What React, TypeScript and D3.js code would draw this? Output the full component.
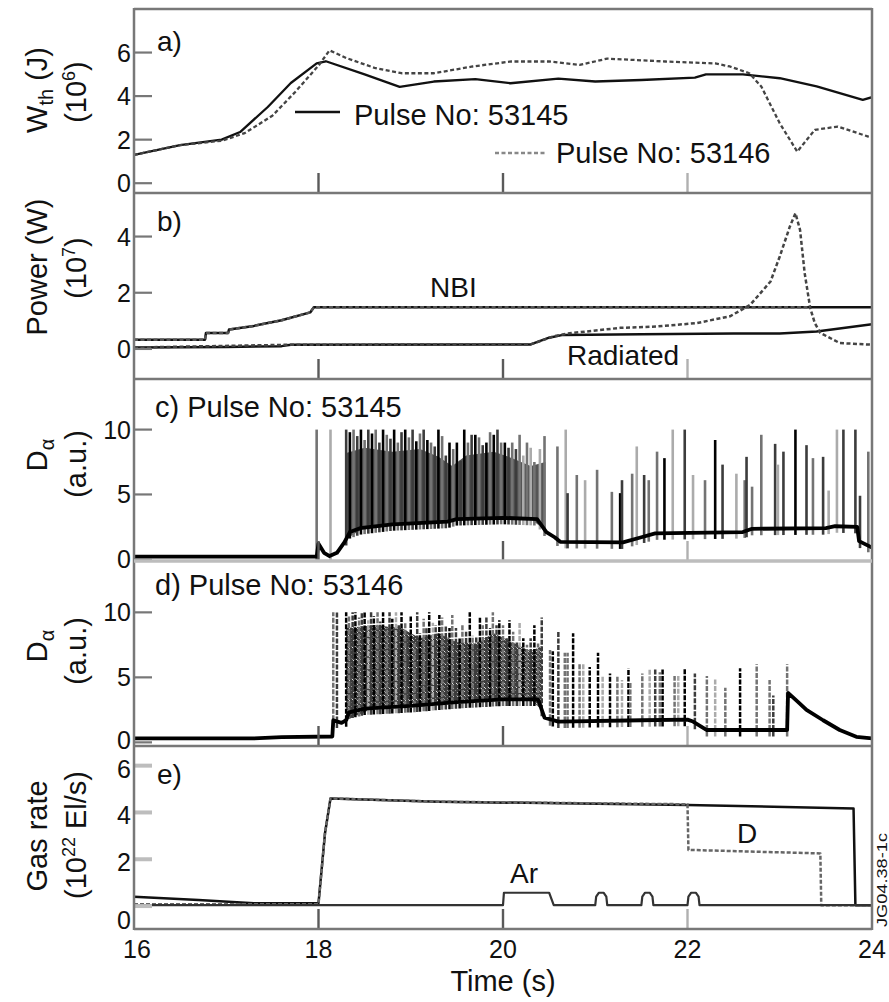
import React from 'react';
import * as d3 from 'd3';

type Pt = [number, number];
type Elm = [number, number, number]; // time (s), peak (a.u.), shade index

// ---------- axes ----------
const timeDomain: Pt = [16, 24];
const timeTicks = [16, 18, 20, 22, 24];
const innerTimeTicks = [18, 20, 22];
const wthTicks = [0, 2, 4, 6];
const powerTicks = [0, 2, 4];
const dalphaTicks = [0, 5, 10];
const gasTicks = [0, 2, 4, 6];

// ---------- a) stored energy (10^6 J) ----------
const wth53145: Pt[] = [
  [16, 1.3], [16.5, 1.75], [16.95, 2.0], [17.15, 2.35], [17.45, 3.5], [17.7, 4.6], [17.98, 5.5],
  [18.08, 5.6], [18.5, 5.0], [18.88, 4.42], [19.25, 4.67], [19.7, 4.78], [20.08, 4.59], [20.6, 4.8],
  [21.0, 4.67], [21.5, 4.74], [22.08, 4.85], [22.2, 5.0], [22.6, 5.0], [23.0, 4.82], [23.4, 4.45],
  [23.9, 3.83], [24, 3.95],
];
const wth53146: Pt[] = [
  [16, 1.3], [16.5, 1.75], [16.95, 1.95], [17.2, 2.3], [17.5, 3.1], [17.75, 4.2], [18.0, 5.4],
  [18.12, 6.1], [18.3, 5.75], [18.62, 5.28], [18.9, 5.05], [19.25, 5.05], [19.67, 5.36], [20.09, 5.59],
  [20.5, 5.59], [20.83, 5.43], [21.13, 5.72], [21.76, 5.59], [22.3, 5.5], [22.46, 5.36], [22.67, 5.05],
  [22.8, 4.44], [23.0, 2.75], [23.19, 1.45], [23.38, 2.45], [23.63, 2.6], [23.96, 2.14], [24, 2.1],
];

// ---------- b) power (10^7 W) ----------
const nbi53145: Pt[] = [
  [16, 0.33], [16.77, 0.33], [16.78, 0.57], [17.02, 0.57], [17.03, 0.69], [17.3, 0.82], [17.6, 1.02],
  [17.91, 1.3], [17.95, 1.48], [24, 1.48],
];
const nbi53146: Pt[] = [
  [16, 0.33], [16.77, 0.33], [16.78, 0.57], [17.02, 0.57], [17.03, 0.69], [17.3, 0.82], [17.6, 1.02],
  [17.91, 1.3], [17.95, 1.48], [23.3, 1.48],
];
const rad53145: Pt[] = [
  [16, 0.05], [17.0, 0.07], [17.6, 0.1], [17.7, 0.15], [20.3, 0.16], [20.5, 0.4], [20.65, 0.5],
  [21.5, 0.52], [22.5, 0.55], [23.0, 0.55], [23.4, 0.62], [24, 0.88],
];
const rad53146: Pt[] = [
  [16, 0.05], [17.7, 0.15], [20.3, 0.16], [20.55, 0.45], [20.7, 0.55], [21.27, 0.75], [21.67, 0.8],
  [22.1, 0.92], [22.46, 1.16], [22.68, 1.57], [22.9, 2.4], [23.0, 3.29], [23.11, 4.36], [23.17, 4.83],
  [23.22, 4.24], [23.27, 2.7], [23.33, 1.46], [23.38, 0.92], [23.44, 0.57], [23.65, 0.21], [24, 0.15],
];

// ---------- c) D-alpha, pulse 53145 ----------
const dalphaBase53145: Pt[] = [
  [16, 0.2], [17.98, 0.2], [18.0, 1.2], [18.06, 0.5], [18.12, 0.25], [18.2, 0.5], [18.28, 1.3],
  [18.34, 2.1], [18.45, 2.4], [18.8, 2.7], [19.4, 2.9], [19.5, 3.1], [20.0, 3.2], [20.37, 3.1],
  [20.47, 2.1], [20.56, 1.7], [20.62, 1.35], [21.3, 1.3], [21.5, 1.7], [21.65, 2.0], [22.6, 2.1],
  [22.7, 2.35], [23.5, 2.4], [23.6, 2.55], [23.84, 2.5], [23.86, 1.4], [24, 0.9],
];
// upper edge of the merged ELM burst (dense phase)
const elmBand53145: Pt[] = [
  [18.3, 8.2], [18.5, 8.6], [18.8, 8.3], [19.1, 8.5], [19.3, 7.9], [19.45, 7.2], [19.6, 8.0],
  [19.9, 8.3], [20.1, 7.8], [20.3, 7.2], [20.46, 7.5],
];
const elm53145: Elm[] = [
  [17.98, 10, 2], [18.13, 10, 3], [18.3, 10, 1], [18.34, 9.8, 0], [18.38, 10, 2], [18.42, 9.5, 1],
  [18.46, 10, 0], [18.5, 9.2, 2], [18.54, 10, 1], [18.58, 9.7, 0], [18.62, 10, 2], [18.66, 9.0, 1],
  [18.7, 10, 0], [18.74, 9.6, 2], [18.78, 9.3, 1], [18.82, 10, 0], [18.86, 9.0, 2], [18.9, 9.8, 1],
  [18.94, 10, 0], [18.98, 9.4, 2], [19.02, 10, 1], [19.06, 9.1, 0], [19.1, 9.7, 2], [19.14, 10, 1],
  [19.18, 9.2, 0], [19.22, 9.0, 2], [19.26, 8.7, 1], [19.3, 10, 0], [19.34, 9.5, 2], [19.38, 8.0, 1],
  [19.42, 9.0, 0], [19.46, 8.5, 2], [19.5, 9.0, 0], [19.54, 7.6, 1], [19.58, 10, 0], [19.62, 9.0, 2],
  [19.66, 9.6, 1], [19.7, 9.6, 0], [19.74, 9.4, 2], [19.78, 8.8, 1], [19.82, 9.0, 0], [19.86, 9.8, 2],
  [19.9, 9.6, 0], [19.94, 10, 1], [19.98, 9.0, 2], [20.02, 9.0, 0], [20.06, 8.6, 1], [20.1, 9.0, 2],
  [20.14, 8.5, 1], [20.18, 9.6, 2], [20.22, 8.0, 3], [20.26, 9.0, 2], [20.3, 8.6, 3], [20.34, 7.5, 2],
  [20.4, 8.5, 3], [20.45, 9.5, 2],
  [20.59, 8.7, 2], [20.68, 10, 3], [20.7, 5.1, 1], [20.8, 6.5, 2], [20.89, 6.1, 3], [21.02, 6.9, 2],
  [21.18, 5.2, 2], [21.27, 5.1, 0], [21.29, 6.1, 1], [21.4, 6.6, 2], [21.45, 8.7, 3], [21.53, 6.5, 1],
  [21.58, 6.1, 2], [21.67, 8.3, 2], [21.75, 7.8, 0], [21.84, 10, 3], [21.97, 10, 1], [22.06, 6.5, 3],
  [22.19, 6.1, 2], [22.3, 9.2, 0], [22.38, 7.3, 1], [22.53, 6.6, 3], [22.62, 6.1, 2], [22.64, 7.9, 1],
  [22.7, 5.6, 2], [22.8, 9.6, 2], [22.95, 8.9, 1], [22.98, 7.3, 3], [23.04, 8.3, 1], [23.17, 10, 0],
  [23.29, 8.8, 1], [23.36, 7.8, 2], [23.47, 7.9, 1], [23.53, 5.3, 3], [23.62, 10, 3], [23.69, 10, 1],
  [23.82, 10, 1], [23.87, 4.9, 1], [23.96, 8.3, 2],
];

// ---------- d) D-alpha, pulse 53146 ----------
const dalphaBase53146: Pt[] = [
  [16, 0.3], [17.3, 0.3], [17.6, 0.4], [18.15, 0.45], [18.16, 1.7], [18.25, 1.5], [18.3, 1.7],
  [18.33, 2.3], [18.5, 2.6], [19.0, 2.8], [19.5, 3.1], [20.0, 3.3], [20.38, 3.3], [20.45, 1.9],
  [20.6, 1.6], [21.5, 1.7], [22.0, 1.75], [22.06, 1.6], [22.21, 0.95], [23.08, 0.95], [23.09, 3.8],
  [23.2, 3.1], [23.29, 2.5], [23.47, 1.7], [23.65, 0.95], [23.83, 0.43], [24, 0.3],
];
const elmBand53146: Pt[] = [
  [18.3, 8.8], [18.6, 9.0], [18.9, 8.8], [19.1, 8.0], [19.3, 8.4], [19.5, 7.7], [19.7, 7.6],
  [19.9, 8.4], [20.1, 7.7], [20.3, 7.0], [20.42, 7.4],
];
const elm53146: Elm[] = [
  [18.16, 10, 2], [18.2, 10, 1], [18.3, 10, 0], [18.33, 9.8, 2], [18.37, 10, 1], [18.4, 10, 0],
  [18.44, 9.6, 2], [18.47, 10, 1], [18.5, 10, 0], [18.54, 9.4, 3], [18.57, 10, 1], [18.6, 9.7, 0],
  [18.64, 10, 2], [18.67, 9.3, 1], [18.7, 10, 0], [18.74, 8.8, 2], [18.77, 10, 1], [18.8, 9.5, 0],
  [18.84, 10, 3], [18.87, 9.0, 1], [18.9, 10, 0], [18.94, 9.2, 2], [18.97, 8.0, 1], [19.0, 9.8, 0],
  [19.04, 7.6, 2], [19.07, 10, 1], [19.1, 8.4, 0], [19.14, 9.5, 2], [19.17, 8.8, 1], [19.2, 10, 0],
  [19.24, 9.2, 3], [19.27, 9.0, 1], [19.31, 9.8, 0], [19.34, 9.6, 2], [19.38, 9.0, 1], [19.42, 8.8, 0],
  [19.45, 9.8, 2], [19.49, 8.8, 1], [19.53, 8.0, 0], [19.56, 9.0, 2], [19.6, 8.5, 1], [19.64, 10, 0],
  [19.67, 8.2, 2], [19.71, 8.1, 1], [19.75, 9.6, 0], [19.78, 9.0, 2], [19.82, 9.6, 1], [19.86, 8.8, 0],
  [19.89, 10, 2], [19.93, 9.0, 1], [19.96, 9.4, 0], [20.0, 9.0, 2], [20.04, 8.0, 1], [20.07, 9.4, 0],
  [20.11, 8.5, 2], [20.15, 7.7, 1], [20.18, 9.2, 3], [20.22, 8.0, 0], [20.26, 7.5, 2], [20.3, 8.0, 1],
  [20.34, 9.0, 0], [20.38, 7.6, 2], [20.42, 9.6, 1],
  [20.51, 7.1, 2], [20.54, 7.0, 0], [20.6, 8.6, 1], [20.67, 6.9, 2], [20.7, 6.9, 2], [20.76, 8.4, 0],
  [20.83, 6.0, 2], [20.87, 6.0, 3], [20.94, 5.8, 0], [21.03, 6.9, 0], [21.08, 5.1, 3], [21.16, 5.3, 0],
  [21.24, 5.1, 2], [21.29, 4.8, 3], [21.36, 5.7, 0], [21.38, 4.6, 2], [21.51, 5.3, 2], [21.59, 5.6, 3],
  [21.65, 5.6, 1], [21.7, 5.4, 2], [21.73, 5.6, 0], [21.86, 5.1, 2], [21.9, 5.1, 3], [21.97, 5.7, 0],
  [22.08, 5.3, 1], [22.21, 5.1, 2], [22.3, 4.9, 3], [22.41, 4.2, 2], [22.57, 5.7, 0], [22.75, 6.0, 2],
  [22.89, 4.8, 2], [22.93, 3.6, 1], [23.08, 6.0, 2],
];

// ---------- e) gas rate (10^22 El/s) ----------
const gasD53145: Pt[] = [
  [16, 0.4], [16.7, 0.26], [17.3, 0.12], [18.0, 0.12], [18.07, 3.1], [18.13, 4.6], [19.3, 4.46],
  [22.0, 4.32], [23.8, 4.17], [23.82, 0.04], [24, 0.04],
];
const gasD53146: Pt[] = [
  [16, 0.08], [18.0, 0.08], [18.07, 3.1], [18.13, 4.6], [19.3, 4.46], [22.0, 4.35], [22.01, 2.4],
  [23.44, 2.25], [23.45, 0.04], [24, 0.04],
];
const gasAr: Pt[] = [
  [16, 0.04], [20.0, 0.04], [20.01, 0.57], [20.5, 0.57], [20.55, 0.04],
  [21.0, 0.04], [21.01, 0.4], [21.04, 0.57], [21.09, 0.57], [21.12, 0.4], [21.13, 0.04],
  [21.5, 0.04], [21.51, 0.4], [21.54, 0.57], [21.59, 0.57], [21.62, 0.4], [21.63, 0.04],
  [22.0, 0.04], [22.01, 0.4], [22.04, 0.57], [22.09, 0.57], [22.12, 0.4], [22.13, 0.04],
  [24, 0.04],
];

// ---------- layout ----------
const FONT = '"Liberation Sans", Arial, Helvetica, sans-serif';
const W = 889;
const H = 1002;
const LEFT = 134;
const RIGHT = 872;
const FRAME = '#787878';
const TEXT = '#111';
const shades = ['#000000', '#3c3c3c', '#737373', '#ababab'];

const x = d3.scaleLinear().domain(timeDomain).range([LEFT, RIGHT]);

interface Panel {
  id: string;
  top: number;
  bottom: number;
  lo: number;
  hi: number;
}
const panelA: Panel = { id: 'a', top: 9, bottom: 193, lo: -0.45, hi: 8.0 };
const panelB: Panel = { id: 'b', top: 193, bottom: 379, lo: -1.07, hi: 5.55 };
const panelC: Panel = { id: 'c', top: 379, bottom: 561, lo: -0.13, hi: 13.9 };
const panelD: Panel = { id: 'd', top: 561, bottom: 746, lo: -0.28, hi: 13.95 };
const panelE: Panel = { id: 'e', top: 746, bottom: 929, lo: -0.98, hi: 6.84 };

const yOf = (p: Panel) => d3.scaleLinear().domain([p.lo, p.hi]).range([p.bottom, p.top]);
const yA = yOf(panelA);
const yB = yOf(panelB);
const yC = yOf(panelC);
const yD = yOf(panelD);
const yE = yOf(panelE);

const lineGen = (y: d3.ScaleLinear<number, number>) =>
  d3.line<Pt>().x((d) => x(d[0])).y((d) => y(d[1]));

const interp = (pts: Pt[]) =>
  d3.scaleLinear().domain(pts.map((d) => d[0])).range(pts.map((d) => d[1])).clamp(true);

function Series({ data, y, dash, color = '#111', width = 2.3 }: {
  data: Pt[]; y: d3.ScaleLinear<number, number>; dash?: string; color?: string; width?: number;
}) {
  return (
    <path d={lineGen(y)(data) || ''} fill="none" stroke={color} strokeWidth={width}
      strokeDasharray={dash} strokeLinejoin="round" />
  );
}

// filled burst region between the D-alpha baseline and the ELM upper edge
function Band({ top, base, y, fill }: { top: Pt[]; base: Pt[]; y: d3.ScaleLinear<number, number>; fill: string }) {
  const baseAt = interp(base);
  const area = d3.area<Pt>().x((d) => x(d[0])).y0((d) => y(baseAt(d[0]))).y1((d) => y(d[1]));
  return <path d={area(top) || ''} fill={fill} />;
}

function Spikes({ data, base, y, dash, width }: {
  data: Elm[]; base: Pt[]; y: d3.ScaleLinear<number, number>; dash?: string; width: number;
}) {
  const baseAt = interp(base);
  return (
    <g>
      {data.map(([t, h, s], i) => (
        <line key={i} x1={x(t)} x2={x(t)} y1={y(baseAt(t) - 0.5)} y2={y(h)}
          stroke={shades[s]} strokeWidth={width} strokeDasharray={dash} />
      ))}
    </g>
  );
}

function YTicks({ ticks, y, color, width, labelShift = 0, zeroShift = 0 }: {
  ticks: number[]; y: d3.ScaleLinear<number, number>; color: string; width: number;
  labelShift?: number; zeroShift?: number;
}) {
  return (
    <g>
      {ticks.map((v) => (
        <g key={v}>
          <line x1={LEFT} x2={LEFT + 18} y1={y(v)} y2={y(v)} stroke={color} strokeWidth={width} />
          <text x={131} y={y(v) + 9 + labelShift + (v === 0 ? zeroShift : 0)} textAnchor="end"
            fontSize={25} fontFamily={FONT} fill={TEXT}>{v}</text>
        </g>
      ))}
    </g>
  );
}

function XTicks({ p }: { p: Panel }) {
  return (
    <g>
      {innerTimeTicks.map((t) => (
        <line key={t} x1={x(t)} x2={x(t)} y1={p.bottom} y2={p.bottom - 20}
          stroke={t === 22 ? '#b0b0b0' : '#5a5a5a'} strokeWidth={2.4} />
      ))}
    </g>
  );
}

function RotLabel({ cx, cy, children, size = 29 }: { cx: number; cy: number; children: React.ReactNode; size?: number }) {
  return (
    <text transform={`translate(${cx},${cy}) rotate(-90)`} textAnchor="middle"
      fontSize={size} fontFamily={FONT} fill={TEXT}>{children}</text>
  );
}

function ClipRect({ id, p }: { id: string; p: Panel }) {
  return (
    <clipPath id={id}>
      <rect x={LEFT} y={p.top} width={RIGHT - LEFT} height={p.bottom - p.top} />
    </clipPath>
  );
}

export default function App() {
  return (
    <svg width={W} height={H} viewBox={`0 0 ${W} ${H}`}
      style={{ position: 'absolute', left: 0, top: 0, background: '#fff' }}>
      <rect width={W} height={H} fill="#fff" />
      <defs>
        <ClipRect id="clipA" p={panelA} />
        <ClipRect id="clipB" p={panelB} />
        <ClipRect id="clipC" p={panelC} />
        <ClipRect id="clipD" p={panelD} />
        <ClipRect id="clipE" p={panelE} />
        <pattern id="grain" width={4} height={4} patternUnits="userSpaceOnUse">
          <rect width={4} height={4} fill="#3e3e3e" />
          <rect x={1} y={0} width={1} height={1} fill="#cfcfcf" />
          <rect x={3} y={2} width={1} height={1} fill="#9a9a9a" />
          <rect x={0} y={3} width={1} height={1} fill="#e6e6e6" />
        </pattern>
      </defs>

      {/* a) stored energy */}
      <g clipPath="url(#clipA)">
        <Series data={wth53145} y={yA} />
        <Series data={wth53146} y={yA} dash="4 2.5" color="#444" />
      </g>
      <line x1={295} x2={340} y1={112} y2={112} stroke="#111" strokeWidth={2.3} />
      <text x={354} y={125} fontSize={29} fontFamily={FONT} fill={TEXT}>Pulse No: 53145</text>
      <line x1={495} x2={545} y1={153} y2={153} stroke="#888" strokeWidth={2.3} strokeDasharray="4 2.5" />
      <text x={556} y={163} fontSize={29} fontFamily={FONT} fill={TEXT}>Pulse No: 53146</text>

      {/* b) heating and radiated power */}
      <g clipPath="url(#clipB)">
        <Series data={rad53145} y={yB} width={2.5} />
        <Series data={nbi53145} y={yB} width={2.5} />
        <Series data={nbi53146} y={yB} dash="4 2.5" color="#555" width={2.5} />
        <Series data={rad53146} y={yB} dash="4 2.5" color="#444" width={2.5} />
      </g>
      <text x={430} y={297} fontSize={28} fontFamily={FONT} fill={TEXT}>NBI</text>
      <text x={567} y={365} fontSize={28} fontFamily={FONT} fill={TEXT}>Radiated</text>

      {/* c) D-alpha 53145 */}
      <g clipPath="url(#clipC)">
        <Band top={elmBand53145} base={dalphaBase53145} y={yC} fill="#555555" />
        <Spikes data={elm53145} base={dalphaBase53145} y={yC} width={2.6} />
        <Series data={dalphaBase53145} y={yC} color="#000" width={3.8} />
      </g>

      {/* d) D-alpha 53146 */}
      <g clipPath="url(#clipD)">
        <Band top={elmBand53146} base={dalphaBase53146} y={yD} fill="url(#grain)" />
        <Spikes data={elm53146} base={dalphaBase53146} y={yD} width={2.5} dash="5 1.5" />
        <Series data={dalphaBase53146} y={yD} color="#000" width={3.8} />
      </g>

      {/* e) gas injection */}
      <g clipPath="url(#clipE)">
        <Series data={gasD53145} y={yE} width={2.5} />
        <Series data={gasD53146} y={yE} dash="4 2" color="#666" width={2.5} />
        <Series data={gasAr} y={yE} color="#333" width={2.2} />
      </g>
      <text x={737} y={843} fontSize={28} fontFamily={FONT} fill={TEXT}>D</text>
      <text x={510} y={883} fontSize={28} fontFamily={FONT} fill={TEXT}>Ar</text>

      {/* ticks */}
      <YTicks ticks={wthTicks} y={yA} color="#777" width={2.2} />
      <YTicks ticks={powerTicks} y={yB} color="#777" width={2.2} />
      <YTicks ticks={dalphaTicks} y={yC} color="#777" width={2.2} />
      <YTicks ticks={dalphaTicks} y={yD} color="#777" width={2.2} zeroShift={-2} />
      <YTicks ticks={gasTicks} y={yE} color="#bdbdbd" width={4} labelShift={3} zeroShift={11} />
      {[panelA, panelB, panelC, panelD, panelE].map((p) => <XTicks key={p.id} p={p} />)}

      {/* frames */}
      <line x1={LEFT} x2={LEFT} y1={panelA.top - 1} y2={panelE.bottom + 1} stroke={FRAME} strokeWidth={2.5} />
      <line x1={RIGHT} x2={RIGHT} y1={panelA.top - 1} y2={panelE.bottom + 1} stroke={FRAME} strokeWidth={2.5} />
      <line x1={LEFT} x2={RIGHT} y1={panelA.top} y2={panelA.top} stroke={FRAME} strokeWidth={2.5} />
      <line x1={LEFT} x2={RIGHT} y1={panelA.bottom} y2={panelA.bottom} stroke={FRAME} strokeWidth={2.5} />
      <line x1={LEFT} x2={RIGHT} y1={panelB.bottom} y2={panelB.bottom} stroke={FRAME} strokeWidth={2.5} />
      <line x1={LEFT} x2={RIGHT} y1={panelC.bottom} y2={panelC.bottom} stroke="#bdbdbd" strokeWidth={3.5} />
      <line x1={LEFT} x2={RIGHT} y1={panelD.bottom} y2={panelD.bottom} stroke={FRAME} strokeWidth={2.5} />
      <line x1={LEFT} x2={RIGHT} y1={panelE.bottom} y2={panelE.bottom} stroke={FRAME} strokeWidth={2.5} />

      {/* panel tags */}
      <text x={157} y={51} fontSize={28} fontFamily={FONT} fill={TEXT}>a)</text>
      <text x={157} y={231} fontSize={28} fontFamily={FONT} fill={TEXT}>b)</text>
      <text x={155} y={417} fontSize={29} fontFamily={FONT} fill={TEXT}>c) Pulse No: 53145</text>
      <text x={155} y={595} fontSize={29} fontFamily={FONT} fill={TEXT}>d) Pulse No: 53146</text>
      <text x={157} y={784} fontSize={28} fontFamily={FONT} fill={TEXT}>e)</text>

      {/* time axis */}
      {timeTicks.map((t) => (
        <text key={t} x={x(t) + (t === 16 ? 3 : 0)} y={958} textAnchor="middle" fontSize={25}
          fontFamily={FONT} fill={TEXT}>{t}</text>
      ))}
      <text x={503} y={991} textAnchor="middle" fontSize={29} fontFamily={FONT} fill={TEXT}>Time (s)</text>

      {/* y-axis titles */}
      <RotLabel cx={47} cy={90}>
        W<tspan fontSize={20} dy={6}>th</tspan><tspan dy={-6}> (J)</tspan>
      </RotLabel>
      <RotLabel cx={86} cy={92}>
        (10<tspan fontSize={18} dy={-11}>6</tspan><tspan dy={11}>)</tspan>
      </RotLabel>
      <RotLabel cx={47} cy={267}>Power (W)</RotLabel>
      <RotLabel cx={86} cy={268}>
        (10<tspan fontSize={18} dy={-11}>7</tspan><tspan dy={11}>)</tspan>
      </RotLabel>
      <RotLabel cx={47} cy={455}>
        D<tspan fontSize={20} dy={7}>α</tspan>
      </RotLabel>
      <RotLabel cx={86} cy={464}>(a.u.)</RotLabel>
      <RotLabel cx={47} cy={646}>
        D<tspan fontSize={20} dy={7}>α</tspan>
      </RotLabel>
      <RotLabel cx={86} cy={651}>(a.u.)</RotLabel>
      <RotLabel cx={47} cy={836}>Gas rate</RotLabel>
      <RotLabel cx={86} cy={835}>
        (10<tspan fontSize={18} dy={-11}>22</tspan><tspan dy={11}> El/s)</tspan>
      </RotLabel>

      {/* figure reference */}
      <text transform="translate(887,880) rotate(-90)" textAnchor="middle" fontSize={14}
        fontFamily={FONT} fill={TEXT} textLength={94} lengthAdjust="spacingAndGlyphs">JG04.38-1c</text>
    </svg>
  );
}
